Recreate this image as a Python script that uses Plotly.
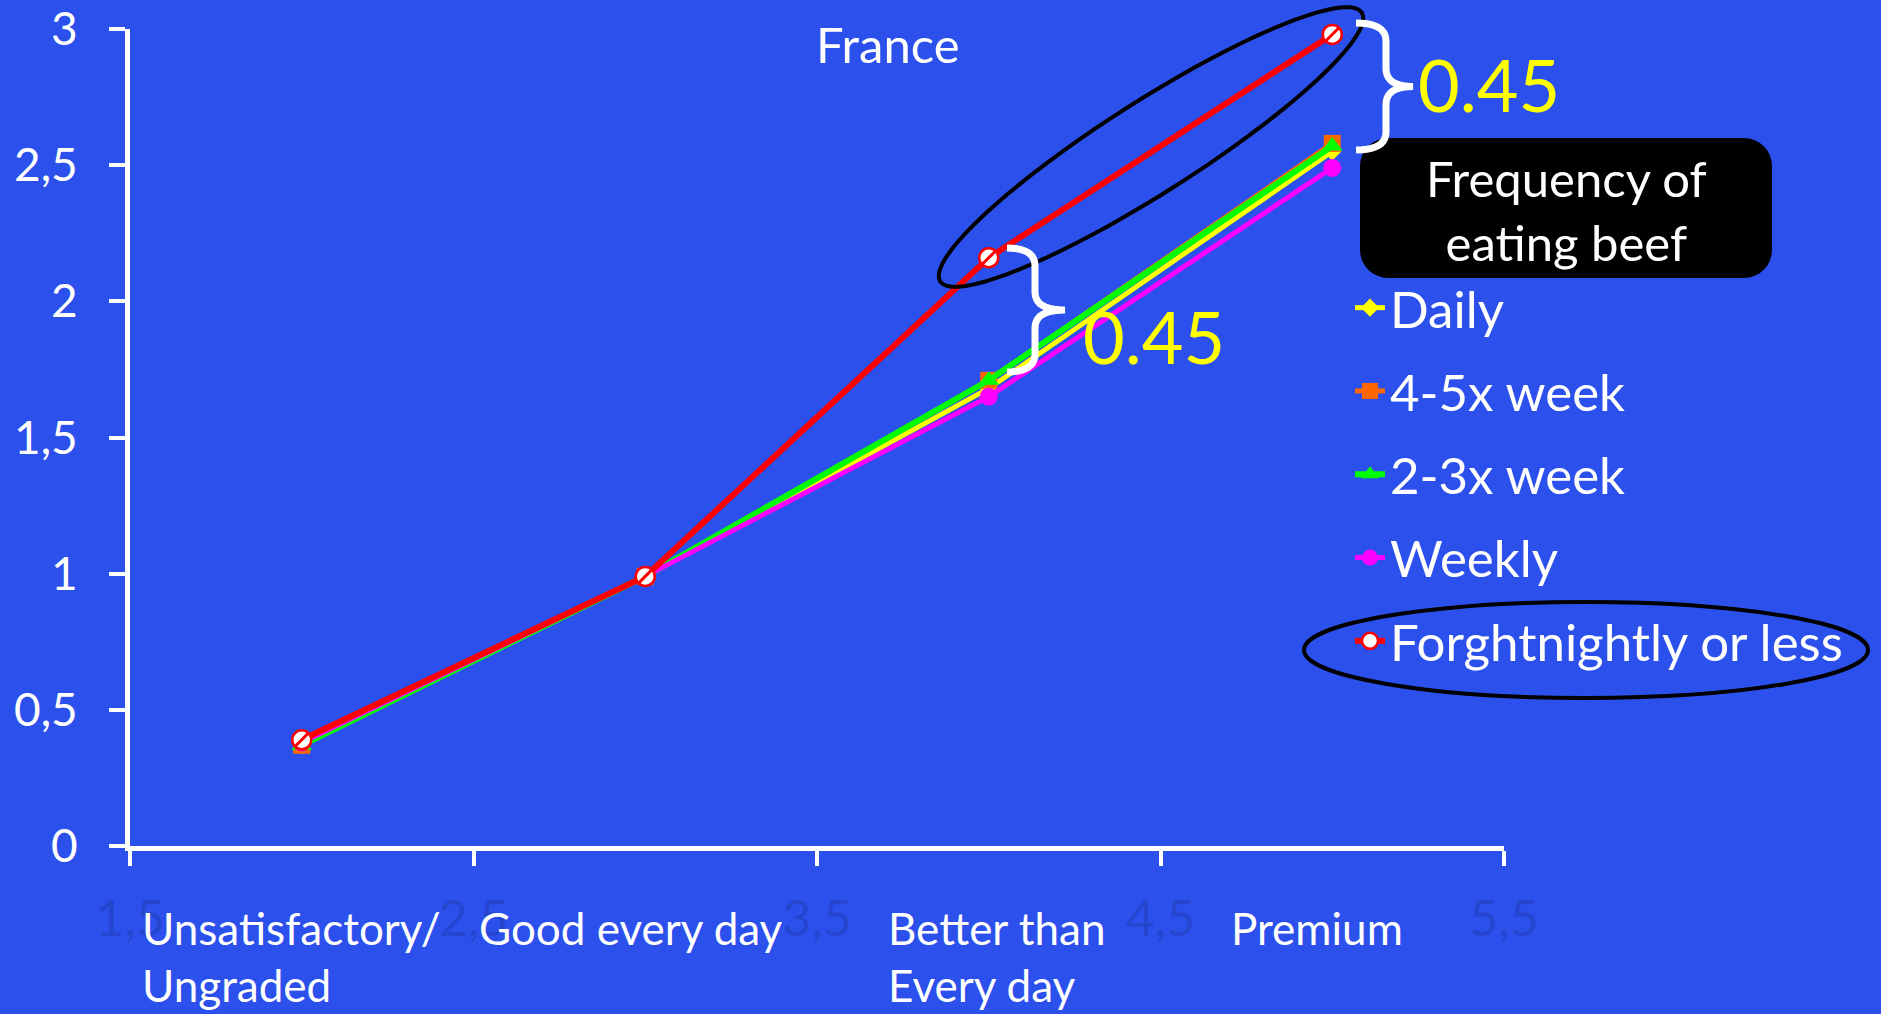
import math
import plotly.graph_objects as go

# ---------------- data ----------------
x_vals = [2, 3, 4, 5]
series_names = ["Daily", "4-5x week", "2-3x week", "Weekly", "Forghtnightly or less"]
daily = [0.37, 0.99, 1.68, 2.55]
week_4_5 = [0.37, 0.99, 1.71, 2.58]
week_2_3 = [0.37, 0.99, 1.71, 2.57]
weekly = [0.38, 0.99, 1.65, 2.49]
fortnightly = [0.39, 0.99, 2.16, 2.98]

x_tick_vals = [1.5, 2.5, 3.5, 4.5, 5.5]
x_tick_text = ["1,5", "2,5", "3,5", "4,5", "5,5"]
y_tick_vals = [0, 0.5, 1, 1.5, 2, 2.5, 3]
y_tick_text = ["0", "0,5", "1", "1,5", "2", "2,5", "3"]
category_labels = ["Unsatisfactory/<br>Ungraded", "Good every day", "Better than<br>Every day", "Premium"]
category_label_pos = [1.53, 2.51, 3.70, 4.70]

# ---------------- layout geometry ----------------
W, H = 1881, 1014
L, R, T, B = 130, 377, 29, 168
PW, PH = W - L - R, H - T - B
BG = "#2c50ec"
FONT = "Lato"


def px(xp):
    return (xp - L) / PW


def py(yp):
    return (H - B - yp) / PH


def path_from_pts(pts, close=False):
    s = "M " + " L ".join(f"{px(a):.5f},{py(b):.5f}" for a, b in pts)
    return s + (" Z" if close else "")


def brace(x0, xm, xt, yt, yb, q=18):
    ym = (yt + yb) / 2
    pts = []
    def quad(p0, c, p1, n=10):
        out = []
        for i in range(1, n + 1):
            t = i / n
            out.append(((1 - t) ** 2 * p0[0] + 2 * (1 - t) * t * c[0] + t * t * p1[0],
                        (1 - t) ** 2 * p0[1] + 2 * (1 - t) * t * c[1] + t * t * p1[1]))
        return out
    pts.append((x0, yt))
    pts += quad((x0, yt), (xm, yt), (xm, yt + q))
    pts.append((xm, ym - q))
    pts += quad((xm, ym - q), (xm, ym), (xt, ym))
    pts += quad((xt, ym), (xm, ym), (xm, ym + q))
    pts.append((xm, yb - q))
    pts += quad((xm, yb - q), (xm, yb), (x0, yb))
    return path_from_pts(pts)


def rot_ellipse(cx, cy, a, b, ang_deg, n=80):
    th = math.radians(ang_deg)
    pts = []
    for i in range(n + 1):
        t = 2 * math.pi * i / n
        ex, ey = a * math.cos(t), b * math.sin(t)
        pts.append((cx + ex * math.cos(th) + ey * math.sin(th),
                    cy - ex * math.sin(th) + ey * math.cos(th)))
    return path_from_pts(pts, close=True)


def rounded_rect(x0, y0, x1, y1, r, n=8):
    pts = []
    corners = [(x1 - r, y0 + r, -90), (x1 - r, y1 - r, 0), (x0 + r, y1 - r, 90), (x0 + r, y0 + r, 180)]
    for cx, cy, start in corners:
        for i in range(n + 1):
            a = math.radians(start + 90 * i / n)
            pts.append((cx + r * math.cos(a), cy + r * math.sin(a)))
    return path_from_pts(pts, close=True)


# ---------------- traces ----------------
fig = go.Figure()
styles = [
    (daily, "#ffff00", dict(symbol="diamond", size=14, color="#ffff00"), 5),
    (week_4_5, "#ff6600", dict(symbol="square", size=17, color="#ff6600"), 5),
    (week_2_3, "#00ff00", dict(symbol="triangle-up", size=18, color="#00ff00"), 6),
    (weekly, "#ff00ff", dict(symbol="circle", size=18, color="#ff00ff"), 5),
    (fortnightly, "#ff0000", dict(symbol="circle", size=19, color="white",
                                   line=dict(color="#ff0000", width=2.5)), 6),
]
for name, (vals, col, mk, lw) in zip(series_names, styles):
    fig.add_trace(go.Scatter(x=x_vals, y=vals, name=name, mode="lines+markers",
                             line=dict(color=col, width=lw), marker=mk,
                             legendgroup=name, cliponaxis=False))
# stripe inside the red markers
fig.add_trace(go.Scatter(x=x_vals, y=fortnightly, mode="markers", showlegend=False,
                         marker=dict(symbol="line-ne", size=14,
                                     line=dict(color="#ff0000", width=3)),
                         cliponaxis=False, hoverinfo="skip"))

# ---------------- shapes ----------------
shapes = [
    dict(type="path", xref="paper", yref="paper",
         path=rot_ellipse(1151, 147, 250, 46, 32.5),
         line=dict(color="black", width=4)),
    dict(type="circle", xref="paper", yref="paper",
         x0=px(1304), x1=px(1868), y0=py(698), y1=py(602),
         line=dict(color="black", width=4)),
    dict(type="path", xref="paper", yref="paper",
         path=rounded_rect(1360, 138, 1772, 278, 28),
         fillcolor="black", line=dict(color="black", width=0)),
    dict(type="path", xref="paper", yref="paper",
         path=brace(1356, 1386, 1413, 23, 150),
         line=dict(color="white", width=7)),
    dict(type="path", xref="paper", yref="paper",
         path=brace(1007, 1035, 1065, 248, 372),
         line=dict(color="white", width=7)),
]

# ---------------- annotations ----------------
def text_ann(text, xp, yp, size, color):
    return dict(text=text, x=px(xp), y=py(yp), xref="paper", yref="paper",
                xanchor="center", yanchor="middle", showarrow=False,
                font=dict(size=size, color=color, family=FONT))


ann = [
    text_ann("France", 888, 44, 49, "white"),
    text_ann("0.45", 1489, 84, 72, "#ffff00"),
    text_ann("0.45", 1154, 336, 72, "#ffff00"),
    text_ann("Frequency of<br>eating beef", 1566, 210, 49, "white"),
]
for lab, pos in zip(category_labels, category_label_pos):
    ann.append(dict(text=lab, x=pos, y=py(900), xref="x", yref="paper",
                    xanchor="left", yanchor="top", align="left", showarrow=False,
                    font=dict(size=44, color="white", family=FONT)))

fig.update_layout(
    width=W, height=H,
    margin=dict(l=L, r=R, t=T, b=B, pad=0, autoexpand=False),
    paper_bgcolor=BG, plot_bgcolor=BG,
    font=dict(family=FONT, color="white"),
    shapes=shapes, annotations=ann,
    legend=dict(x=px(1350), y=py(268), xanchor="left", yanchor="top",
                font=dict(size=51, color="white", family=FONT),
                bgcolor="rgba(0,0,0,0)", tracegroupgap=14, itemwidth=30),
    showlegend=True,
)
fig.update_xaxes(range=[1.5, 5.5], tickvals=x_tick_vals, ticktext=x_tick_text,
                 showgrid=False, zeroline=False, showline=True, linecolor="white", linewidth=5,
                 ticks="outside", ticklen=15, tickwidth=4, tickcolor="white", automargin=False,
                 tickfont=dict(size=50, color="#2646d0", family=FONT), ticklabelstandoff=10)
fig.update_yaxes(range=[0, 3], tickvals=y_tick_vals, ticktext=y_tick_text,
                 showgrid=False, zeroline=False, showline=True, linecolor="white", linewidth=5,
                 ticks="outside", ticklen=16, tickwidth=4, tickcolor="white", automargin=False,
                 tickfont=dict(size=46, color="white", family=FONT), ticklabelstandoff=22)

fig.write_html("out.html")
